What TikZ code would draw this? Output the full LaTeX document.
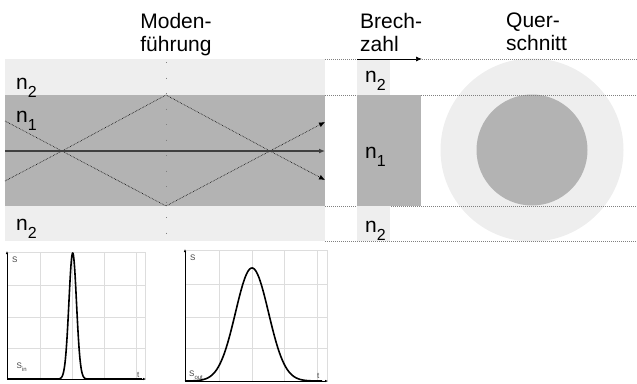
\documentclass[tikz,border=0pt]{standalone}
\usepackage{fontspec}
\setmainfont{Liberation Sans}
\usetikzlibrary{arrows.meta,positioning}
\definecolor{kern}{HTML}{B3B3B3}
\definecolor{mantel}{HTML}{EEEEEE}
\definecolor{raster}{HTML}{DDDDDD}
\newcommand{\nidx}[1]{n\raisebox{-8pt}{\fontsize{16}{16}\selectfont #1}}
\newcommand{\sidx}[1]{S\raisebox{-3pt}{\fontsize{6}{6}\selectfont #1}}
\tikzset{
  titel/.style={inner sep=0pt, anchor=north west, align=left, font=\fontsize{21}{23}\selectfont},
  index/.style={inner sep=0pt, anchor=base west, font=\fontsize{21}{21}\selectfont},
  hilfslinie/.style={draw=gray, line width=0.6pt, dash pattern=on 1pt off 1pt},
  strahl/.style={line width=0.6pt, densely dotted, -{Latex[length=6pt,width=5pt]}},
  klein/.style={inner sep=0pt, anchor=base west, text=darkgray, font=\fontsize{8}{8}\selectfont},
  kurve/.style={line width=1.6pt, line join=round},
  achse/.style={line width=0.7pt, -{Latex[length=3pt,width=2.5pt]}}
}
\begin{document}
\begin{tikzpicture}[x=1pt, y=-1pt]
  \useasboundingbox (0,0) rectangle (637,383);

  % Modenfuehrung
  \fill[mantel] (5,59) rectangle (325,95);
  \fill[kern] (5,95) rectangle (325,206);
  \fill[mantel] (5,206) rectangle (325,241);
  \draw[gray, line width=0.8pt, dash pattern=on 1pt off 14.5pt] (166,62) -- (166,241);

  \coordinate (oben) at (166,95);
  \coordinate (unten) at (166,206);
  \coordinate (k1) at (62,151);
  \coordinate (k2) at (270,151);
  \coordinate (ein) at (5,151);
  \coordinate (aus) at (325,151);
  \draw[strahl] (5,121) -- (k1) -- (unten) -- (k2) -- (325,122);
  \draw[strahl] (5,181) -- (k1) -- (oben) -- (k2) -- (325,180);
  \draw[line width=1.3pt, draw=black!75, -{Latex[length=6pt,width=5pt]}] (ein) -- (aus);

  \node[titel, anchor=north, align=center] (moden) at (176,13) {Moden-\\führung};
  \node[index] (fn2o) at (16,89) {\nidx{2}};
  \node[index] (fn1) at (16,122) {\nidx{1}};
  \node[index] (fn2u) at (16,230) {\nidx{2}};

  % Querschnitt
  \fill[mantel] (532,150) circle (91.5);
  \fill[kern] (532,150) circle (55.5);

  \draw[hilfslinie] (325,59) -- (357,59);
  \draw[hilfslinie] (422,59) -- (637,59);
  \draw[hilfslinie] (325,95) -- (637,95);
  \draw[hilfslinie] (325,206) -- (637,206);
  \draw[hilfslinie] (325,241) -- (637,241);

  % Brechzahl
  \fill[mantel] (357,59) rectangle (390,95);
  \fill[kern] (357,95) rectangle (421,206);
  \fill[mantel] (357,206) rectangle (390,241);
  \coordinate (p0) at (357,59);
  \coordinate (p1) at (422,59);
  \draw[line width=0.7pt, -{Latex[length=6pt,width=5pt]}] (p0) -- (p1);

  \node[titel] (brech) at (360,13) {Brech-\\zahl};
  \node[titel] (quer) at (506,13) {Quer-\\schnitt};
  \node[index] (pn2o) at (365,82) {\nidx{2}};
  \node[index] (pn1) at (365,158) {\nidx{1}};
  \node[index] (pn2u) at (365,232) {\nidx{2}};

  % Impuls am Eingang
  \draw[raster, line width=0.8pt] (7,252) rectangle (145,379);
  \foreach \x in {40.7,72.7,104.5,136} \draw[raster, line width=0.8pt] (\x,252) -- (\x,379);
  \foreach \y in {285,317,348} \draw[raster, line width=0.8pt] (7,\y) -- (145,\y);
  \coordinate (o1) at (7,379);
  \coordinate (s1) at (7,251);
  \coordinate (t1) at (146,379);
  \draw[achse] (o1) -- (s1);
  \draw[achse] (o1) -- (t1);
  \draw[kurve] (o1) -- (55,379)
    -- plot[domain=55:90, samples=120] (\x, {379-126*exp(-((\x-72.7)/3.8)^2/2)})
    -- (142,379);
  \node[klein] (s1l) at (12,262) {S};
  \node[klein] (t1l) at (137,377) {t};
  \node[klein] (sin) at (16.5,368) {\sidx{in}};

  % Impuls am Ausgang
  \draw[raster, line width=0.8pt] (185,250) rectangle (327,381);
  \foreach \x in {219,252,284,317} \draw[raster, line width=0.8pt] (\x,250) -- (\x,381);
  \foreach \y in {284,317,348} \draw[raster, line width=0.8pt] (185,\y) -- (327,\y);
  \coordinate (o2) at (185,381);
  \coordinate (s2) at (185,249);
  \coordinate (t2) at (328,381);
  \draw[achse] (o2) -- (s2);
  \draw[achse] (o2) -- (t2);
  \draw[kurve] plot[domain=185:322, samples=160] (\x, {381-113*exp(-((\x-252)/16.5)^2/2)});
  \node[klein] (s2l) at (190,260) {S};
  \node[klein] (t2l) at (317,378) {t};
  \node[klein] (sout) at (189,376) {\sidx{out}};
\end{tikzpicture}
\end{document}
